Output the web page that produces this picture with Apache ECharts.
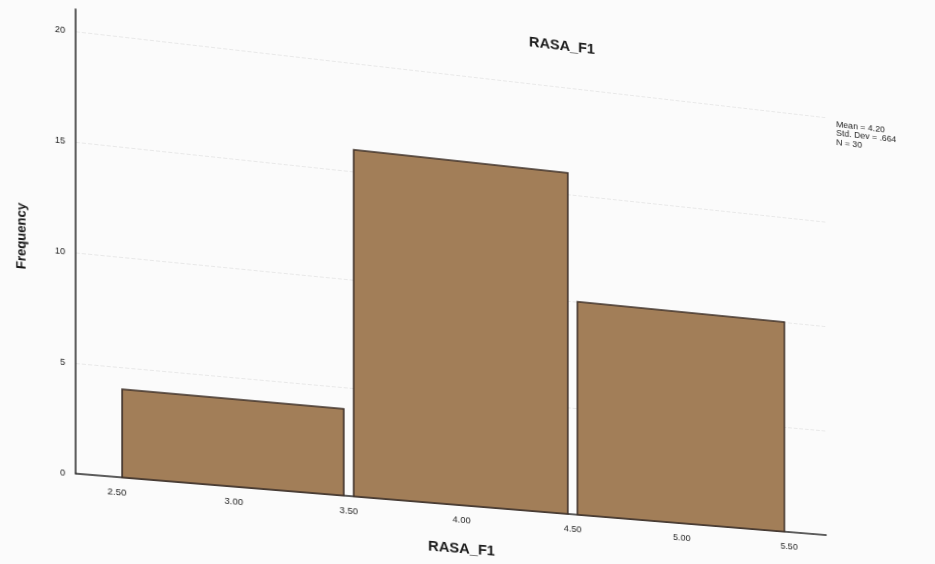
<!DOCTYPE html>
<html><head><meta charset="utf-8">
<script src="https://cdn.jsdelivr.net/npm/echarts@6/dist/echarts.min.js"></script>
<style>
html,body{margin:0;padding:0;width:935px;height:564px;overflow:hidden;background:#fbfbfb;}
#chart{position:absolute;left:0;top:0;width:1000px;height:640px;transform-origin:0 0;}
</style></head><body><div id="chart"></div>
<script>
// ---- data ----
const binStarts = [2.5, 3.5, 4.5];
const binEnds = [3.5, 4.5, 5.5];
const frequencies = [4, 16, 10];
const xTickValues = [2.5, 3.0, 3.5, 4.0, 4.5, 5.0, 5.5];
const yTickValues = [0, 5, 10, 15, 20];
const chartTitle = 'RASA_F1';
const xAxisTitle = 'RASA_F1';
const yAxisTitle = 'Frequency';
const statsLines = ['Mean = 4.20', 'Std. Dev = .664', 'N = 30'];

const FONT = '"Liberation Sans", Arial, sans-serif';
const el = document.getElementById('chart');
const chart = echarts.init(el, null, {renderer: 'svg', width: 1000, height: 640});

function renderItem(params, api) {
  const p0 = api.coord([api.value(0), 0]);
  const p1 = api.coord([api.value(1), api.value(2)]);
  const inset = 5;
  return {
    type: 'rect',
    shape: {x: p0[0] + inset, y: p1[1], width: p1[0] - p0[0] - 2 * inset, height: p0[1] - p1[1]},
    style: {fill: '#a27e58', stroke: '#3e3028', lineWidth: 1.6}
  };
}

chart.setOption({
  animation: false,
  backgroundColor: 'transparent',
  grid: {left: 120, right: 113, top: 68, bottom: 110},
  xAxis: {
    type: 'value', min: 2.325, max: 5.675,
    axisLine: {lineStyle: {color: '#2a2a2a', width: 1.5}},
    axisTick: {show: false}, splitLine: {show: false},
    axisLabel: {customValues: xTickValues, formatter: v => Number(v).toFixed(2), fontSize: 9.5, color: '#1e1e1e', margin: 10, fontFamily: FONT},
    name: xAxisTitle, nameLocation: 'middle', nameGap: 36,
    nameTextStyle: {fontSize: 15, fontWeight: 'bold', color: '#1a1a1a', fontFamily: FONT}
  },
  yAxis: {
    type: 'value', min: 0, max: 21, interval: 5,
    axisLine: {show: true, lineStyle: {color: '#2a2a2a', width: 1.5}},
    axisTick: {show: false, customValues: yTickValues},
    splitLine: {show: true, lineStyle: {color: '#e8e8e8', type: 'dashed', width: 1}},
    axisLabel: {customValues: yTickValues, fontSize: 9, color: '#1e1e1e', margin: 10, fontFamily: FONT},
    name: yAxisTitle, nameLocation: 'middle', nameGap: 46,
    nameTextStyle: {fontSize: 13, fontWeight: 'bold', color: '#1a1a1a', fontFamily: FONT}
  },
  series: [{
    type: 'custom',
    data: binStarts.map((s, i) => [s, binEnds[i], frequencies[i]]),
    encode: {x: [0, 1], y: 2},
    renderItem: renderItem
  }]
});

// ---- perspective of the photographed page (homography flat -> page) ----
function solve(A, B) {
  const n = B.length;
  const M = A.map((r, i) => r.concat([B[i]]));
  for (let c = 0; c < n; c++) {
    let p = c;
    for (let r = c + 1; r < n; r++) if (Math.abs(M[r][c]) > Math.abs(M[p][c])) p = r;
    const t = M[c]; M[c] = M[p]; M[p] = t;
    for (let r = 0; r < n; r++) {
      if (r === c) continue;
      const f = M[r][c] / M[c][c];
      for (let k = c; k <= n; k++) M[r][k] -= f * M[c][k];
    }
  }
  return M.map((r, i) => r[n] / r[i]);
}
const anchors = [[2.5, 0], [5.5, 0], [2.5, 20], [5.5, 20]];
const src = anchors.map(p => chart.convertToPixel({gridIndex: 0}, p));
const dst = [[117, 477], [789, 532], [117, 36], [789, 113]];
const A = [], B = [];
for (let i = 0; i < 4; i++) {
  const [u, v] = src[i], [x, y] = dst[i];
  A.push([u, v, 1, 0, 0, 0, -u * x, -v * x]); B.push(x);
  A.push([0, 0, 0, u, v, 1, -u * y, -v * y]); B.push(y);
}
const [a, b, c, d, e, f, g, h] = solve(A, B);
function inv(x, y) {
  const m11 = a - g * x, m12 = b - h * x, r1 = x - c;
  const m21 = d - g * y, m22 = e - h * y, r2 = y - f;
  const det = m11 * m22 - m12 * m21;
  return [(r1 * m22 - m12 * r2) / det, (m11 * r2 - r1 * m21) / det];
}
const tPos = inv(562, 46);
const sPos = inv(836, 119);
chart.setOption({
  title: {text: chartTitle, left: tPos[0], top: tPos[1] - 9, textAlign: 'center', padding: 0,
    textStyle: {fontSize: 15, fontWeight: 'bold', color: '#1a1a1a', fontFamily: FONT}},
  graphic: [{type: 'text', x: sPos[0], y: sPos[1],
    style: {text: statsLines.join('\n'), fontSize: 9.5, lineHeight: 9.5, fill: '#1e1e1e', fontFamily: FONT}}]
});
el.style.transform = `matrix3d(${a},${d},0,${g},${b},${e},0,${h},0,0,1,0,${c},${f},0,1)`;
</script></body></html>
